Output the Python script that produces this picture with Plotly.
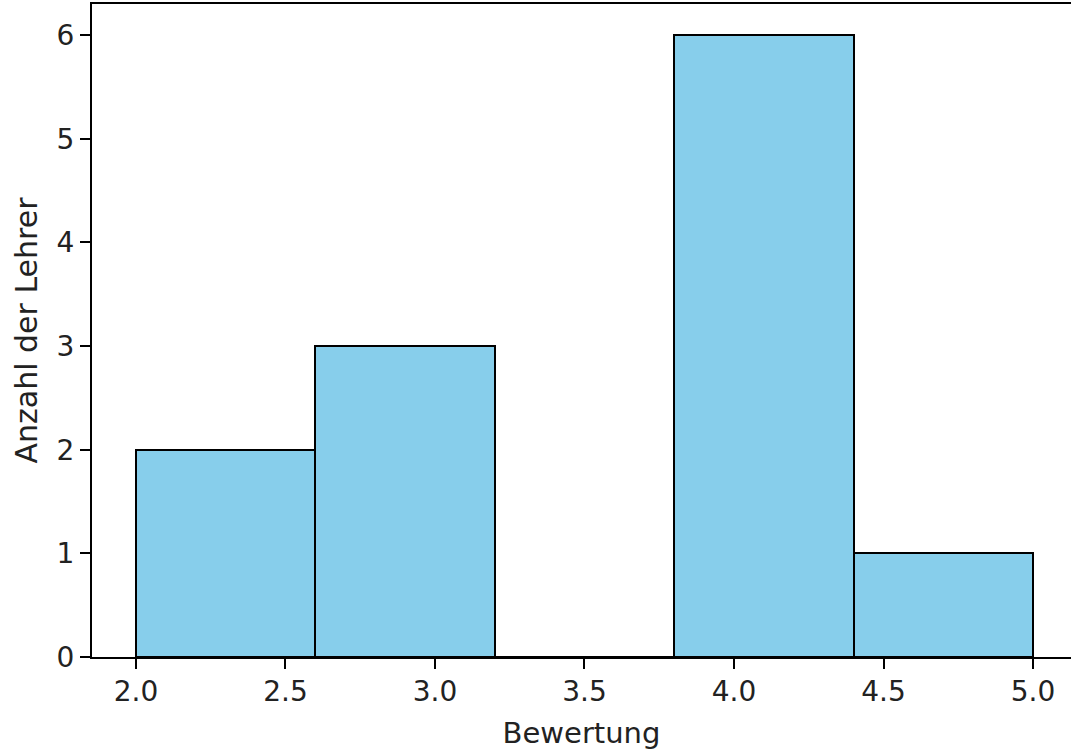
import plotly.graph_objects as go

bin_edges = [2.0, 2.6, 3.2, 3.8, 4.4, 5.0]
counts = [2, 3, 0, 6, 1]
x_ticks = [2.0, 2.5, 3.0, 3.5, 4.0, 4.5, 5.0]
x_tick_labels = ["2.0", "2.5", "3.0", "3.5", "4.0", "4.5", "5.0"]
y_ticks = [0, 1, 2, 3, 4, 5, 6]

centers = [(a + b) / 2 for a, b in zip(bin_edges[:-1], bin_edges[1:])]
widths = [b - a for a, b in zip(bin_edges[:-1], bin_edges[1:])]

fig = go.Figure()
fig.add_trace(go.Bar(
    x=centers, y=counts, width=widths,
    marker=dict(color="#87CEEB", line=dict(color="black", width=2)),
))

font = dict(family="DejaVu Sans", size=28, color="#222222")
fig.update_layout(
    width=1071, height=753,
    margin=dict(l=92, r=0, t=4, b=96),
    plot_bgcolor="white", paper_bgcolor="white",
    showlegend=False, bargap=0,
    font=font,
)
fig.update_xaxes(
    range=[1.853, 5.127], tickvals=x_ticks, ticktext=x_tick_labels,
    automargin=False,
    showgrid=False, zeroline=False, showline=True, linecolor="black", linewidth=2,
    mirror=True, ticks="outside", ticklen=10, tickwidth=2, tickcolor="black",
    ticklabelstandoff=-2,
    title=dict(text="Bewertung", font=dict(family="DejaVu Sans", size=29, color="#222222"), standoff=16),
    tickfont=font,
)
fig.update_yaxes(
    range=[0, 6.3], tickvals=y_ticks,
    automargin=False,
    showgrid=False, zeroline=False, showline=True, linecolor="black", linewidth=2,
    ticks="outside", ticklen=10, tickwidth=2, tickcolor="black",
    title=dict(text="Anzahl der Lehrer", font=dict(family="DejaVu Sans", size=30, color="#222222"), standoff=10),
    tickfont=font,
)

fig.write_html(
    "out.html",
    config={"displayModeBar": False},
    post_script="document.body.style.margin='0';document.body.style.overflow='hidden';",
)
